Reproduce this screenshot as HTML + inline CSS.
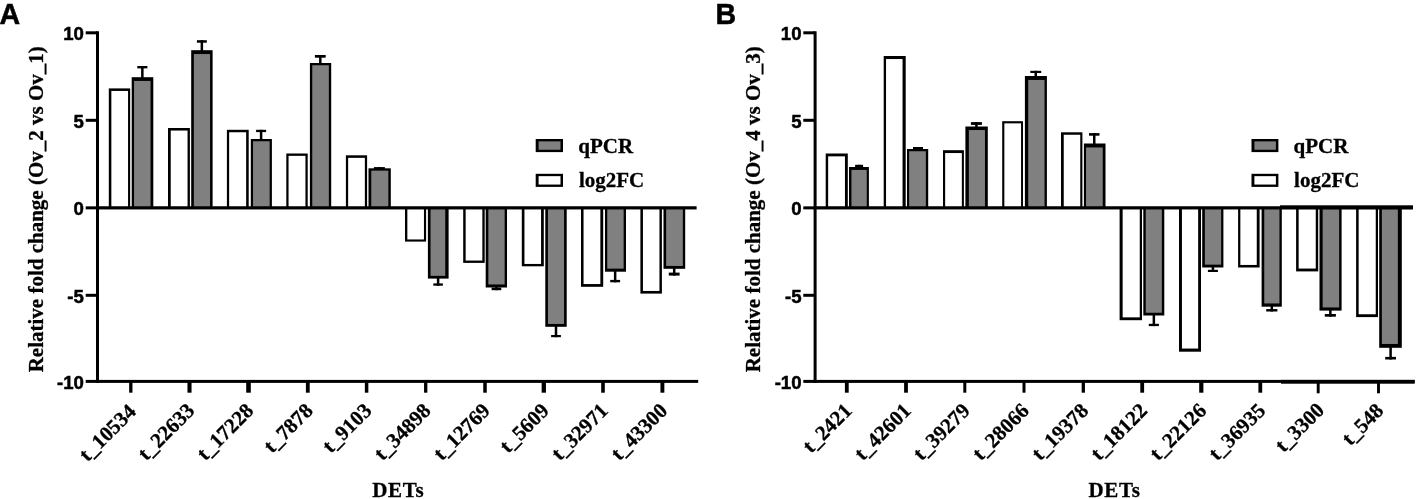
<!DOCTYPE html>
<html><head><meta charset="utf-8"><title>Figure</title>
<style>
html,body{margin:0;padding:0;background:#fff;}
body{width:1419px;height:499px;overflow:hidden;}
svg{display:block;will-change:transform;}
.sf{font-family:"Liberation Serif",serif;font-weight:bold;font-size:21px;fill:#000;stroke:#000;stroke-width:0.3px;}
.sn{font-family:"Liberation Sans",sans-serif;font-weight:bold;font-size:18.6px;fill:#000;stroke:#000;stroke-width:0.5px;}
.pl{font-family:"Liberation Sans",sans-serif;font-weight:bold;font-size:28.6px;fill:#000;stroke:#000;stroke-width:0.5px;}
</style></head>
<body>
<svg width="1419" height="499" viewBox="0 0 1419 499">
<rect x="0" y="0" width="1419" height="499" fill="#fff"/>
<rect x="108.80" y="88.40" width="21.40" height="119.45" fill="#000"/><rect x="111.35" y="90.95" width="16.70" height="116.90" fill="#fff"/>
<rect x="141.10" y="66.00" width="2.5" height="12.20" fill="#000"/><rect x="137.30" y="66.00" width="10.10" height="2.4" fill="#000"/>
<rect x="131.70" y="77.20" width="21.60" height="130.65" fill="#000"/><rect x="134.05" y="80.95" width="16.50" height="126.90" fill="#808080"/>
<rect x="168.00" y="128.00" width="21.90" height="79.85" fill="#000"/><rect x="170.75" y="130.55" width="16.80" height="77.30" fill="#fff"/>
<rect x="200.60" y="40.20" width="2.5" height="11.00" fill="#000"/><rect x="196.90" y="40.20" width="9.90" height="2.5" fill="#000"/>
<rect x="191.20" y="50.20" width="21.40" height="157.65" fill="#000"/><rect x="193.85" y="54.05" width="16.20" height="153.80" fill="#808080"/>
<rect x="226.90" y="129.80" width="21.80" height="78.05" fill="#000"/><rect x="229.15" y="132.25" width="17.00" height="75.60" fill="#fff"/>
<rect x="259.85" y="129.80" width="2.5" height="10.20" fill="#000"/><rect x="256.10" y="129.80" width="10.00" height="2.3" fill="#000"/>
<rect x="250.80" y="139.00" width="21.10" height="68.85" fill="#000"/><rect x="253.05" y="141.25" width="16.60" height="66.60" fill="#808080"/>
<rect x="286.30" y="153.50" width="21.40" height="54.35" fill="#000"/><rect x="288.55" y="155.85" width="16.90" height="52.00" fill="#fff"/>
<rect x="319.05" y="55.00" width="2.5" height="9.00" fill="#000"/><rect x="314.90" y="55.00" width="10.80" height="2.7" fill="#000"/>
<rect x="309.90" y="63.00" width="21.30" height="144.85" fill="#000"/><rect x="312.25" y="65.25" width="16.60" height="142.60" fill="#808080"/>
<rect x="345.90" y="155.30" width="21.20" height="52.55" fill="#000"/><rect x="348.15" y="157.85" width="16.70" height="50.00" fill="#fff"/>
<rect x="378.15" y="167.10" width="2.5" height="2.20" fill="#000"/><rect x="373.90" y="167.10" width="11.00" height="2.0" fill="#000"/>
<rect x="368.50" y="168.30" width="22.30" height="39.55" fill="#000"/><rect x="371.25" y="170.65" width="17.10" height="37.20" fill="#808080"/>
<rect x="405.00" y="207.85" width="21.10" height="33.75" fill="#000"/><rect x="407.35" y="207.85" width="16.60" height="31.60" fill="#fff"/>
<rect x="436.85" y="277.60" width="2.5" height="8.10" fill="#000"/><rect x="433.30" y="283.40" width="9.60" height="2.3" fill="#000"/>
<rect x="427.90" y="207.85" width="20.70" height="70.75" fill="#000"/><rect x="430.55" y="207.85" width="14.70" height="68.00" fill="#808080"/>
<rect x="463.20" y="207.85" width="21.50" height="55.05" fill="#000"/><rect x="465.65" y="207.85" width="16.70" height="52.70" fill="#fff"/>
<rect x="495.20" y="286.50" width="2.5" height="3.70" fill="#000"/><rect x="491.60" y="287.60" width="9.70" height="2.6" fill="#000"/>
<rect x="485.70" y="207.85" width="21.30" height="79.65" fill="#000"/><rect x="488.35" y="207.85" width="16.30" height="76.60" fill="#808080"/>
<rect x="521.80" y="207.85" width="22.00" height="58.45" fill="#000"/><rect x="524.45" y="207.85" width="16.60" height="56.10" fill="#fff"/>
<rect x="554.75" y="325.80" width="2.5" height="11.40" fill="#000"/><rect x="551.10" y="335.00" width="9.80" height="2.2" fill="#000"/>
<rect x="545.30" y="207.85" width="21.40" height="118.95" fill="#000"/><rect x="547.95" y="207.85" width="16.10" height="116.10" fill="#808080"/>
<rect x="581.00" y="207.85" width="22.20" height="78.95" fill="#000"/><rect x="583.55" y="207.85" width="16.80" height="76.20" fill="#fff"/>
<rect x="613.90" y="270.70" width="2.5" height="11.60" fill="#000"/><rect x="610.20" y="279.90" width="9.90" height="2.4" fill="#000"/>
<rect x="605.00" y="207.85" width="21.00" height="63.85" fill="#000"/><rect x="607.25" y="207.85" width="16.40" height="60.80" fill="#808080"/>
<rect x="640.40" y="207.85" width="21.50" height="85.75" fill="#000"/><rect x="642.95" y="207.85" width="16.50" height="83.10" fill="#fff"/>
<rect x="672.95" y="267.80" width="2.5" height="7.80" fill="#000"/><rect x="668.80" y="272.60" width="10.80" height="3.0" fill="#000"/>
<rect x="663.50" y="207.85" width="21.70" height="60.95" fill="#000"/><rect x="666.15" y="207.85" width="16.70" height="58.10" fill="#808080"/>
<rect x="96.00" y="31.30" width="3.0" height="351.60" fill="#000"/>
<rect x="96.00" y="379.90" width="602.20" height="3.0" fill="#000"/>
<rect x="96.00" y="206.25" width="600.60" height="3.2" fill="#000"/>
<rect x="85.70" y="31.30" width="11.8" height="3.0" fill="#000"/>
<text x="83.90" y="39.80" text-anchor="end" class="sn">10</text>
<rect x="85.70" y="118.80" width="11.8" height="3.0" fill="#000"/>
<text x="83.90" y="127.70" text-anchor="end" class="sn">5</text>
<rect x="85.70" y="206.35" width="11.8" height="3.0" fill="#000"/>
<text x="83.90" y="214.50" text-anchor="end" class="sn">0</text>
<rect x="85.70" y="293.80" width="11.8" height="3.0" fill="#000"/>
<text x="83.90" y="302.70" text-anchor="end" class="sn">-5</text>
<rect x="85.70" y="379.90" width="11.8" height="3.0" fill="#000"/>
<text x="83.90" y="388.70" text-anchor="end" class="sn">-10</text>
<rect x="129.15" y="381.40" width="3.3" height="11.3" fill="#000"/>
<text transform="translate(137.10,412.90) rotate(-45)" text-anchor="end" class="sf">t_10534</text>
<rect x="187.45" y="381.40" width="4.1" height="11.3" fill="#000"/>
<text transform="translate(195.80,411.90) rotate(-45)" text-anchor="end" class="sf">t_22633</text>
<rect x="246.20" y="381.40" width="4.6" height="11.3" fill="#000"/>
<text transform="translate(254.80,411.90) rotate(-45)" text-anchor="end" class="sf">t_17228</text>
<rect x="305.90" y="381.40" width="3.8" height="11.3" fill="#000"/>
<text transform="translate(314.10,411.90) rotate(-45)" text-anchor="end" class="sf">t_7878</text>
<rect x="364.85" y="381.40" width="3.5" height="11.3" fill="#000"/>
<text transform="translate(372.90,411.90) rotate(-45)" text-anchor="end" class="sf">t_9103</text>
<rect x="424.05" y="381.40" width="3.3" height="11.3" fill="#000"/>
<text transform="translate(432.00,411.90) rotate(-45)" text-anchor="end" class="sf">t_34898</text>
<rect x="483.25" y="381.40" width="3.5" height="11.3" fill="#000"/>
<text transform="translate(491.30,411.90) rotate(-45)" text-anchor="end" class="sf">t_12769</text>
<rect x="541.65" y="381.40" width="4.3" height="11.3" fill="#000"/>
<text transform="translate(550.10,411.90) rotate(-45)" text-anchor="end" class="sf">t_5609</text>
<rect x="601.20" y="381.40" width="3.6" height="11.3" fill="#000"/>
<text transform="translate(609.30,411.90) rotate(-45)" text-anchor="end" class="sf">t_32971</text>
<rect x="660.45" y="381.40" width="3.9" height="11.3" fill="#000"/>
<text transform="translate(668.70,411.90) rotate(-45)" text-anchor="end" class="sf">t_43300</text>
<text x="372.20" y="496.9" class="sf" style="letter-spacing:0.7px">DETs</text>
<text transform="translate(42.80,372.3) rotate(-90)" class="sf">Relative fold change (Ov_2 vs Ov_1)</text>
<text x="-0.5" y="23.9" class="pl">A</text>
<rect x="535.70" y="139.00" width="27.3" height="13.1" fill="#000"/>
<rect x="538.60" y="141.35" width="21.90" height="8.4" fill="#808080"/>
<rect x="535.70" y="173.80" width="27.3" height="13.1" fill="#000"/>
<rect x="538.60" y="176.15" width="21.90" height="8.4" fill="#fff"/>
<text x="578.30" y="153.0" class="sf">qPCR</text>
<text x="578.90" y="186.8" class="sf">log2FC</text>

<rect x="825.70" y="153.50" width="22.10" height="54.35" fill="#000"/><rect x="828.15" y="156.35" width="16.80" height="51.50" fill="#fff"/>
<rect x="857.85" y="164.80" width="2.5" height="3.20" fill="#000"/><rect x="855.10" y="164.80" width="8.00" height="2.2" fill="#000"/>
<rect x="849.00" y="167.00" width="19.90" height="40.85" fill="#000"/><rect x="851.45" y="169.95" width="15.30" height="37.90" fill="#808080"/>
<rect x="883.70" y="56.00" width="22.00" height="151.85" fill="#000"/><rect x="886.05" y="59.05" width="16.50" height="148.80" fill="#fff"/>
<rect x="916.75" y="147.00" width="2.5" height="3.00" fill="#000"/><rect x="913.00" y="147.00" width="10.00" height="2.1" fill="#000"/>
<rect x="907.00" y="149.00" width="21.20" height="58.85" fill="#000"/><rect x="909.15" y="151.25" width="16.70" height="56.60" fill="#808080"/>
<rect x="943.00" y="150.20" width="20.90" height="57.65" fill="#000"/><rect x="945.15" y="153.05" width="16.70" height="54.80" fill="#fff"/>
<rect x="975.15" y="122.10" width="2.5" height="5.40" fill="#000"/><rect x="970.90" y="122.10" width="11.00" height="2.8" fill="#000"/>
<rect x="965.40" y="126.50" width="22.40" height="81.35" fill="#000"/><rect x="968.85" y="130.05" width="16.10" height="77.80" fill="#808080"/>
<rect x="1002.20" y="121.20" width="20.80" height="86.65" fill="#000"/><rect x="1004.35" y="123.35" width="16.70" height="84.50" fill="#fff"/>
<rect x="1034.50" y="70.80" width="2.5" height="6.20" fill="#000"/><rect x="1030.30" y="70.80" width="10.90" height="2.2" fill="#000"/>
<rect x="1024.90" y="76.00" width="22.00" height="131.85" fill="#000"/><rect x="1028.25" y="79.95" width="16.30" height="127.90" fill="#808080"/>
<rect x="1061.00" y="132.30" width="21.40" height="75.55" fill="#000"/><rect x="1063.75" y="134.75" width="16.50" height="73.10" fill="#fff"/>
<rect x="1093.00" y="133.10" width="2.5" height="11.40" fill="#000"/><rect x="1089.00" y="133.10" width="10.50" height="2.6" fill="#000"/>
<rect x="1083.90" y="143.50" width="21.60" height="64.35" fill="#000"/><rect x="1086.05" y="147.45" width="16.70" height="60.40" fill="#808080"/>
<rect x="1119.60" y="207.85" width="22.40" height="112.35" fill="#000"/><rect x="1122.65" y="207.85" width="17.10" height="109.50" fill="#fff"/>
<rect x="1152.60" y="314.50" width="2.5" height="11.60" fill="#000"/><rect x="1148.80" y="323.80" width="10.10" height="2.3" fill="#000"/>
<rect x="1143.30" y="207.85" width="21.00" height="107.65" fill="#000"/><rect x="1145.75" y="207.85" width="16.10" height="104.90" fill="#808080"/>
<rect x="1179.00" y="207.85" width="22.00" height="143.85" fill="#000"/><rect x="1181.95" y="207.85" width="16.20" height="140.70" fill="#fff"/>
<rect x="1211.65" y="266.50" width="2.5" height="5.50" fill="#000"/><rect x="1207.90" y="269.80" width="10.00" height="2.2" fill="#000"/>
<rect x="1202.20" y="207.85" width="21.20" height="59.65" fill="#000"/><rect x="1204.85" y="207.85" width="16.30" height="56.80" fill="#808080"/>
<rect x="1238.10" y="207.85" width="21.50" height="59.65" fill="#000"/><rect x="1240.35" y="207.85" width="16.40" height="57.10" fill="#fff"/>
<rect x="1270.55" y="305.70" width="2.5" height="5.80" fill="#000"/><rect x="1266.20" y="309.10" width="11.20" height="2.4" fill="#000"/>
<rect x="1261.60" y="207.85" width="20.20" height="98.85" fill="#000"/><rect x="1264.25" y="207.85" width="15.20" height="95.60" fill="#808080"/>
<rect x="1296.10" y="207.85" width="22.10" height="63.55" fill="#000"/><rect x="1298.65" y="207.85" width="17.10" height="60.70" fill="#fff"/>
<rect x="1329.10" y="309.60" width="2.5" height="7.10" fill="#000"/><rect x="1324.80" y="314.00" width="11.10" height="2.7" fill="#000"/>
<rect x="1319.50" y="207.85" width="22.10" height="102.75" fill="#000"/><rect x="1322.65" y="207.85" width="16.50" height="99.60" fill="#808080"/>
<rect x="1356.10" y="207.85" width="21.90" height="109.25" fill="#000"/><rect x="1358.65" y="207.85" width="17.10" height="106.40" fill="#fff"/>
<rect x="1389.35" y="346.80" width="2.5" height="12.70" fill="#000"/><rect x="1385.20" y="356.90" width="10.80" height="2.6" fill="#000"/>
<rect x="1379.20" y="207.85" width="22.60" height="139.95" fill="#000"/><rect x="1381.85" y="207.85" width="16.00" height="136.10" fill="#808080"/>
<rect x="813.60" y="31.30" width="3.0" height="351.60" fill="#000"/>
<rect x="813.60" y="379.90" width="600.90" height="3.0" fill="#000"/>
<rect x="813.60" y="206.25" width="599.30" height="3.2" fill="#000"/>
<rect x="803.30" y="31.30" width="11.8" height="3.0" fill="#000"/>
<text x="801.50" y="39.80" text-anchor="end" class="sn">10</text>
<rect x="803.30" y="118.80" width="11.8" height="3.0" fill="#000"/>
<text x="801.50" y="127.70" text-anchor="end" class="sn">5</text>
<rect x="803.30" y="206.35" width="11.8" height="3.0" fill="#000"/>
<text x="801.50" y="214.50" text-anchor="end" class="sn">0</text>
<rect x="803.30" y="293.80" width="11.8" height="3.0" fill="#000"/>
<text x="801.50" y="302.70" text-anchor="end" class="sn">-5</text>
<rect x="803.30" y="379.90" width="11.8" height="3.0" fill="#000"/>
<text x="801.50" y="388.70" text-anchor="end" class="sn">-10</text>
<rect x="844.90" y="381.40" width="3.8" height="11.3" fill="#000"/>
<text transform="translate(853.10,411.90) rotate(-45)" text-anchor="end" class="sf">t_2421</text>
<rect x="904.10" y="381.40" width="3.8" height="11.3" fill="#000"/>
<text transform="translate(912.30,411.90) rotate(-45)" text-anchor="end" class="sf">t_42601</text>
<rect x="963.30" y="381.40" width="3.0" height="11.3" fill="#000"/>
<text transform="translate(971.10,411.90) rotate(-45)" text-anchor="end" class="sf">t_39279</text>
<rect x="1022.50" y="381.40" width="3.0" height="11.3" fill="#000"/>
<text transform="translate(1030.30,411.90) rotate(-45)" text-anchor="end" class="sf">t_28066</text>
<rect x="1081.65" y="381.40" width="3.3" height="11.3" fill="#000"/>
<text transform="translate(1089.60,411.90) rotate(-45)" text-anchor="end" class="sf">t_19378</text>
<rect x="1140.30" y="381.40" width="3.8" height="11.3" fill="#000"/>
<text transform="translate(1148.50,411.90) rotate(-45)" text-anchor="end" class="sf">t_18122</text>
<rect x="1199.20" y="381.40" width="4.2" height="11.3" fill="#000"/>
<text transform="translate(1207.60,411.90) rotate(-45)" text-anchor="end" class="sf">t_22126</text>
<rect x="1258.40" y="381.40" width="3.8" height="11.3" fill="#000"/>
<text transform="translate(1266.60,411.90) rotate(-45)" text-anchor="end" class="sf">t_36935</text>
<rect x="1316.75" y="381.40" width="2.9" height="11.9" fill="#000"/>
<text transform="translate(1325.50,411.30) rotate(-45)" text-anchor="end" class="sf">t_3300</text>
<rect x="1377.05" y="381.40" width="2.9" height="11.9" fill="#000"/>
<text transform="translate(1384.80,411.90) rotate(-45)" text-anchor="end" class="sf">t_548</text>
<text x="1088.40" y="496.9" class="sf" style="letter-spacing:0.7px">DETs</text>
<text transform="translate(760.40,372.3) rotate(-90)" class="sf">Relative fold change (Ov_4 vs Ov_3)</text>
<text x="715.6" y="23.9" class="pl">B</text>
<rect x="1251.50" y="139.00" width="26.9" height="13.1" fill="#000"/>
<rect x="1254.40" y="141.35" width="21.50" height="8.4" fill="#808080"/>
<rect x="1251.50" y="173.80" width="26.9" height="13.1" fill="#000"/>
<rect x="1254.40" y="176.15" width="21.50" height="8.4" fill="#fff"/>
<text x="1293.50" y="153.0" class="sf">qPCR</text>
<text x="1294.10" y="186.8" class="sf">log2FC</text>
<rect x="1281" y="379.9" width="133.7" height="3.8" fill="#000"/><rect x="1280" y="205.3" width="133" height="3.8" fill="#000"/>
</svg>
</body></html>
